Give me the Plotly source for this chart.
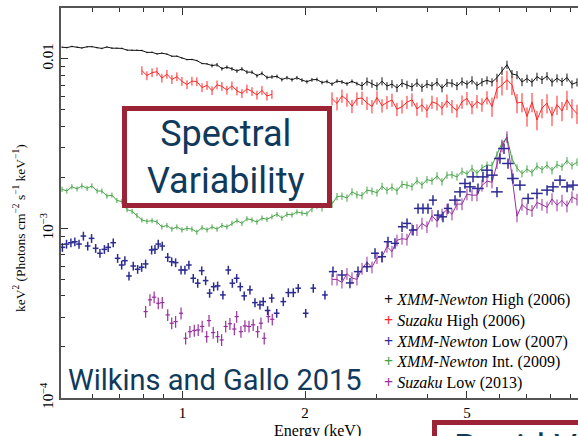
import plotly.graph_objects as go

# ---------------- data (energies in keV, spectra in units of 1e-3) ----------------
energy = [0.506, 0.520, 0.535, 0.551, 0.566, 0.583, 0.599, 0.617, 0.634, 0.652,
          0.671, 0.690, 0.710, 0.731, 0.752, 0.773, 0.795, 0.818, 0.842, 0.866,
          0.890, 0.916, 0.942, 0.969, 0.997, 1.026, 1.055, 1.085, 1.117, 1.149,
          1.182, 1.216, 1.250, 1.286, 1.323, 1.361, 1.400, 1.440, 1.482, 1.524,
          1.568, 1.613, 1.659, 1.707, 1.755, 1.806, 1.858, 1.911, 1.966, 2.022,
          2.080, 2.140, 2.202, 2.265, 2.330, 2.397, 2.465, 2.536, 2.609, 2.683,
          2.761, 2.840, 2.921, 3.005, 3.092, 3.180, 3.271, 3.365, 3.462, 3.561,
          3.663, 3.768, 3.876, 3.987, 4.102, 4.220, 4.341, 4.465, 4.593, 4.725,
          4.861, 5.000, 5.144, 5.291, 5.442, 5.599, 5.760, 5.925, 6.095, 6.269,
          6.449, 6.635, 6.825, 7.021, 7.223, 7.429, 7.643, 7.862, 8.088, 8.320,
          8.559, 8.803, 9.056, 9.316]

xmm_high_2006 = [11.69, 11.63, 11.81, 11.71, 11.57, 11.76, 11.78, 11.62, 11.50, 11.73,
                 11.54, 11.53, 11.50, 11.24, 11.21, 11.22, 11.18, 10.89, 10.91, 10.68,
                 10.78, 10.64, 10.34, 10.35, 10.08, 9.88, 9.90, 9.75, 9.37, 9.32,
                 9.11, 9.21, 8.73, 8.91, 8.72, 8.47, 8.70, 8.34, 8.33, 7.94,
                 8.20, 7.75, 7.81, 7.87, 7.53, 7.73, 7.52, 7.72, 7.48, 7.32,
                 7.51, 7.55, 7.24, 7.34, 7.08, 7.38, 7.30, 7.11, 7.36, 7.13,
                 6.91, 7.35, 7.13, 6.88, 7.37, 6.90, 7.09, 6.72, 7.19, 7.03,
                 6.81, 7.22, 6.75, 7.10, 6.91, 7.28, 6.70, 7.21, 7.18, 6.91,
                 7.35, 7.06, 7.47, 6.94, 7.28, 7.46, 7.27, 7.73, 8.49, 9.22,
                 8.13, 8.01, 7.29, 7.64, 7.25, 7.84, 7.50, 7.90, 7.26, 7.67,
                 7.32, 7.75, 7.07, 7.26]

suzaku_high_2006 = [None] * 16 + [
    8.51, 7.95, 8.28, 8.39, 7.69, 8.10, 7.55, 7.84, 7.36, 7.04,
    7.38, 7.33, 6.76, 6.97, 6.49, 7.02, 6.87, 6.53, 6.93, 6.46,
    6.25, 6.64, 6.41, 6.11, 6.51, 6.03, 6.17] + [None] * 11 + [
    5.82, 5.45, 6.04, 5.73, 5.25, 5.81, 5.87, 5.48, 5.23, 5.90,
    5.29, 5.53, 5.71, 5.04, 5.22, 5.54, 5.73, 5.06, 5.35, 4.93,
    5.56, 5.44, 5.10, 5.65, 5.24, 4.94, 5.57, 5.84, 5.17, 5.60,
    5.35, 5.91, 5.22, 6.68, 6.98, 7.52, 7.01, 5.48, 5.55, 4.57,
    5.56, 4.35, 5.12, 5.47, 4.61, 5.36, 4.92, 5.73, 5.11, 4.74]

xmm_int_2009 = [1.70, 1.66, 1.76, 1.71, 1.78, 1.72, 1.78, 1.66, 1.66, 1.55,
                1.57, 1.46, 1.44, 1.29, 1.26, 1.19, 1.12, 1.10, 1.11, 1.09,
                1.02, 1.04, 0.99, 1.02, 0.98, 1.00, 0.99, 0.95, 1.01, 0.98,
                1.02, 0.99, 1.04, 1.02, 1.07, 1.11, 1.07, 1.14, 1.12, 1.09,
                1.15, 1.13, 1.17, 1.21, 1.15, 1.21, 1.20, 1.25, 1.23, 1.22,
                1.31, 1.37, 1.32, 1.42, 1.39, 1.54, 1.55, 1.51, 1.64, 1.58,
                1.56, 1.68, 1.66, 1.62, 1.77, 1.67, 1.75, 1.66, 1.82, 1.80,
                1.76, 1.91, 1.80, 1.94, 1.90, 2.04, 1.88, 2.06, 2.07, 2.01,
                2.17, 2.09, 2.26, 2.11, 2.27, 2.36, 2.35, 2.71, 3.18, 3.43,
                2.57, 2.27, 2.10, 2.24, 2.13, 2.33, 2.22, 2.36, 2.19, 2.38,
                2.30, 2.51, 2.34, 2.46]

suzaku_low_2013_hi = [None] * 54 + [
    0.50, 0.50, 0.48, 0.54, 0.51, 0.50, 0.58, 0.63, 0.59, 0.67,
    0.68, 0.78, 0.73, 0.85, 0.87, 0.86, 0.99, 0.98, 1.07, 1.02,
    1.19, 1.10, 1.21, 1.29, 1.21, 1.39, 1.39, 1.59, 1.57, 1.57,
    1.79, 1.90, 1.87, 2.43, 3.05, 3.46, 2.06, 1.18, 1.38, 1.30,
    1.27, 1.42, 1.38, 1.33, 1.49, 1.37, 1.46, 1.35, 1.53, 1.48]

suzaku_low_energy = [0.812, 0.832, 0.852, 0.872, 0.892, 0.920, 0.941, 0.962, 0.992, 1.018,
                     1.043, 1.069, 1.093, 1.118, 1.147, 1.162, 1.190, 1.220, 1.248, 1.277,
                     1.308, 1.341, 1.359, 1.392, 1.424, 1.457, 1.492, 1.530, 1.559, 1.588,
                     1.625, 1.662]
suzaku_low_2013_lo = [0.323, 0.379, 0.393, 0.362, 0.365, 0.309, 0.276, 0.282, 0.316, 0.225,
                      0.246, 0.250, 0.252, 0.264, 0.230, 0.286, 0.243, 0.230, 0.220, 0.264,
                      0.274, 0.255, 0.302, 0.246, 0.266, 0.264, 0.270, 0.246, 0.276, 0.225,
                      0.302, 0.291]

xmm_low_energy = [0.507, 0.519, 0.532, 0.544, 0.557, 0.571, 0.585, 0.598, 0.612, 0.627,
                  0.643, 0.657, 0.676, 0.693, 0.709, 0.722, 0.739, 0.757, 0.776, 0.794,
                  0.812, 0.840, 0.856, 0.872, 0.892, 0.920, 0.941, 0.962, 0.992, 1.014,
                  1.037, 1.063, 1.090, 1.115, 1.140, 1.166, 1.193, 1.220, 1.257, 1.296,
                  1.326, 1.359, 1.387, 1.418, 1.465, 1.507, 1.550, 1.579, 1.619, 1.657,
                  1.704, 1.769, 1.820, 1.872, 1.925, 2.008, 2.096, 2.239, 2.343, 2.465,
                  2.579, 2.699, 2.840, 2.972, 3.092, 3.198, 3.327, 3.462, 3.562, 3.685,
                  3.791, 3.898, 4.010, 4.125, 4.244, 4.366, 4.491, 4.673, 4.807, 4.944,
                  5.087, 5.174, 5.321, 5.473, 5.600, 5.760, 5.925, 6.026, 6.165, 6.306,
                  6.486, 6.748, 7.064, 7.430, 7.865, 8.135, 8.462, 8.806, 9.108]
xmm_low_2007 = [0.773, 0.808, 0.823, 0.834, 0.808, 0.901, 0.787, 0.873, 0.763, 0.713,
                0.752, 0.773, 0.823, 0.666, 0.608, 0.645, 0.524, 0.600, 0.574, 0.590,
                0.617, 0.746, 0.752, 0.808, 0.787, 0.675, 0.636, 0.628, 0.568, 0.568,
                0.608, 0.508, 0.475, 0.563, 0.492, 0.415, 0.453, 0.458, 0.405, 0.568,
                0.475, 0.508, 0.453, 0.400, 0.434, 0.365, 0.354, 0.370, 0.328, 0.388,
                0.316, 0.370, 0.418, 0.418, 0.444, 0.316, 0.444, 0.405, 0.556, 0.531,
                0.477, 0.556, 0.594, 0.713, 0.681, 0.834, 0.816, 1.022, 1.070, 0.977,
                1.311, 1.311, 1.311, 1.467, 1.197, 1.170, 1.311, 1.467, 1.641, 1.840,
                1.757, 2.012, 1.719, 2.012, 2.203, 2.059, 1.641, 2.581, 2.955, 2.412,
                1.968, 1.798, 1.501, 1.607, 1.680, 1.757, 1.923, 1.757, 1.798]

# relative uncertainties (percent)
xmm_high_err = [1.0] * 30 + [2.5] * 30 + [5.5] * 44
suzaku_high_err = [6.0] * 54 + [9.0] * 32 + [13.0] * 18
xmm_int_err = [3.5] * 50 + [5.0] * 54
suzaku_low_hi_err = [8.0] * 104
suzaku_low_lo_err = [8.0] * 32
xmm_low_err = [6.0] * 58 + [7.0] * 41
xmm_low_xerr = [1.6] * 58 + [2.3] * 19 + [3.3] * 22

legend_labels = ["<i>XMM-Newton</i> High (2006)", "<i>Suzaku</i> High (2006)",
                 "<i>XMM-Newton</i> Low (2007)", "<i>XMM-Newton</i> Int. (2009)",
                 "<i>Suzaku</i> Low (2013)"]

for name, a, b in [("e", energy, xmm_high_2006), ("r", energy, suzaku_high_2006),
                   ("g", energy, xmm_int_2009), ("p", energy, suzaku_low_2013_hi),
                   ("pl", suzaku_low_energy, suzaku_low_2013_lo),
                   ("b", xmm_low_energy, xmm_low_2007)]:
    assert len(a) == len(b), (name, len(a), len(b))

# ---------------- helpers ----------------
def sc(vals):
    return [None if v is None else v * 1e-3 for v in vals]

def er(vals, pct):
    return [0 if v is None else v * 1e-3 * p / 100.0 for v, p in zip(vals, pct)]

BLACK = "#111111"
RED = "#ff2626"
BLUE = "#2c2c94"
GREEN = "#45a445"
PURPLE = "#9a2f9f"

fig = go.Figure()

def add_dense(x, y, pct, color):
    fig.add_trace(go.Scatter(
        x=x, y=sc(y), mode="lines", line=dict(color=color, width=1),
        error_y=dict(type="data", array=er(y, pct), width=0, thickness=1, color=color),
        showlegend=False, hoverinfo="skip"))

def add_cross(x, y, pct, color, xpct=None, xarr=None, thick=1.5):
    if xarr is not None:
        ex = dict(type="data", array=[xi * p / 100.0 for xi, p in zip(x, xarr)],
                  width=0, thickness=thick, color=color)
    else:
        ex = dict(type="percent", value=xpct, width=0, thickness=thick, color=color)
    fig.add_trace(go.Scatter(
        x=x, y=sc(y), mode="markers", marker=dict(size=1, color=color),
        error_y=dict(type="data", array=er(y, pct), width=0, thickness=thick, color=color),
        error_x=ex, showlegend=False, hoverinfo="skip"))

add_dense(energy, xmm_high_2006, xmm_high_err, BLACK)
add_dense(energy, suzaku_high_2006, suzaku_high_err, RED)
add_dense(energy, xmm_int_2009, xmm_int_err, GREEN)
add_dense(energy, suzaku_low_2013_hi, suzaku_low_hi_err, PURPLE)
add_cross(suzaku_low_energy, suzaku_low_2013_lo, suzaku_low_lo_err, PURPLE, xpct=1.2, thick=1.2)
add_cross(xmm_low_energy, xmm_low_2007, xmm_low_err, BLUE, xarr=xmm_low_xerr, thick=1.5)

SERIF = "Liberation Serif"
AXC = "#555555"

fig.update_xaxes(
    type="log", range=[-0.2984, 0.9717],
    showline=True, linecolor=AXC, linewidth=1.5, mirror="ticks",
    ticks="inside", ticklen=7, tickcolor="#333333", tickwidth=1,
    tickvals=[1, 2, 5], ticktext=["1", "2", "5"],
    tickfont=dict(family=SERIF, size=15, color="black"),
    minor=dict(ticks="inside", ticklen=4, tickcolor="#333333",
               tickvals=[0.6, 0.7, 0.8, 0.9, 3, 4, 6, 7, 8, 9], showgrid=False),
    showgrid=False, zeroline=False)

fig.update_yaxes(
    type="log", range=[-4, -1.701],
    showline=True, linecolor=AXC, linewidth=1.5, mirror=False,
    ticks="inside", ticklen=7, tickcolor="#333333", tickwidth=1,
    tickvals=[1e-4, 1e-3, 1e-2], ticktext=["10<sup>\u22124</sup>", "10<sup>\u22123</sup>", "0.01"],
    tickangle=-90,
    tickfont=dict(family=SERIF, size=15, color="black"),
    minor=dict(ticks="inside", ticklen=4, tickcolor="#333333",
               tickvals=[k * 1e-4 for k in range(2, 10)] + [k * 1e-3 for k in range(2, 10)],
               showgrid=False),
    showgrid=False, zeroline=False)

NAVY = "#0f3a5c"
MAROON = "#9b2335"

def px(x):
    return (x - 61) / 517.0

def py(y):
    return (398 - y) / 390.0

shapes = [
    dict(type="rect", xref="paper", yref="paper", x0=px(124.5), x1=px(329.5),
         y0=py(205.5), y1=py(108.5), line=dict(color=MAROON, width=5),
         fillcolor="white", layer="above"),
    dict(type="rect", xref="paper", yref="paper", x0=px(434.5), x1=px(800),
         y0=py(520), y1=py(422.5), line=dict(color=MAROON, width=5),
         fillcolor="white", layer="above"),
]

ann = []
ann.append(dict(text="Spectral<br>Variability", x=px(226), y=py(157), xref="paper", yref="paper",
                showarrow=False, font=dict(family="Roboto", size=36, color=NAVY),
                xanchor="center", yanchor="middle"))
ann.append(dict(text="Wilkins and Gallo 2015", x=px(66), y=py(380), xref="paper", yref="paper",
                showarrow=False, font=dict(family="Roboto", size=29, color=NAVY),
                xanchor="left", yanchor="middle"))
ann.append(dict(text="Rapid Variability", x=px(452), y=py(448), xref="paper", yref="paper",
                showarrow=False, font=dict(family="Roboto", size=36, color=NAVY),
                xanchor="left", yanchor="middle"))
ann.append(dict(text="Energy (keV)", x=px(317), y=py(431), xref="paper", yref="paper",
                showarrow=False, font=dict(family=SERIF, size=16, color="black"),
                xanchor="center", yanchor="middle"))
ann.append(dict(text="keV<sup>2</sup> (Photons cm<sup>\u22122</sup> s<sup>\u22121</sup> keV<sup>\u22121</sup>)",
                x=px(19), y=py(228), xref="paper", yref="paper", textangle=-90,
                showarrow=False, font=dict(family=SERIF, size=13.5, color="black"),
                xanchor="center", yanchor="middle"))

leg_colors = [BLACK, RED, BLUE, GREEN, PURPLE]
leg_y = [300, 321, 341.5, 362, 382.5]
for lab, c, yy in zip(legend_labels, leg_colors, leg_y):
    ann.append(dict(text=f'<span style="color:{c}"><b>+</b></span> {lab}',
                    x=px(382), y=py(yy), xref="paper", yref="paper", showarrow=False,
                    font=dict(family=SERIF, size=16, color="black"),
                    xanchor="left", yanchor="middle"))

fig.update_layout(
    width=578, height=436,
    margin=dict(l=61, r=0, t=8, b=38),
    paper_bgcolor="white", plot_bgcolor="white",
    shapes=shapes, annotations=ann, showlegend=False)

fig.write_html("out.html")
